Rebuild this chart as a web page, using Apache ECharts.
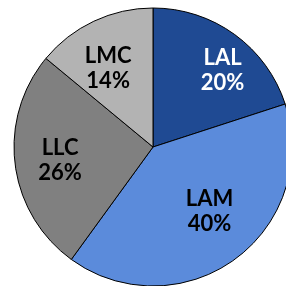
<!DOCTYPE html>
<html>
<head>
<meta charset="utf-8">
<script src="https://cdn.jsdelivr.net/npm/echarts@6/dist/echarts.min.js"></script>
<style>
  html, body { margin: 0; padding: 0; background: #fff; }
  #chart { width: 286px; height: 286px; }
</style>
</head>
<body>
<div id="chart"></div>
<script>
var names = ['LAL', 'LAM', 'LLC', 'LMC'];
var values = [20, 40, 26, 14];
var colors = ['#1f4a93', '#5b8bdb', '#808080', '#b3b3b3'];
var labelColors = ['#ffffff', '#000000', '#000000', '#000000'];
// nudge labels away from the default inside spot
var labelShift = [[27, -18], [14, 6], [-21, 4], [-14, -13]];

var chart = echarts.init(document.getElementById('chart'));

var data = names.map(function (n, i) {
  return {
    name: n,
    value: values[i],
    itemStyle: { color: colors[i] },
    label: { color: labelColors[i] }
  };
});

chart.setOption({
  animation: false,
  series: [{
    type: 'pie',
    center: [153, 147],
    radius: [0, 139],
    startAngle: 90,
    clockwise: true,
    itemStyle: { borderColor: '#000', borderWidth: 1 },
    label: {
      show: true,
      position: 'inside',
      formatter: '{b}\n{d}%',
      fontFamily: 'Lato',
      fontWeight: 'bold',
      fontSize: 22,
      lineHeight: 25,
      align: 'center'
    },
    labelLine: { show: false },
    emphasis: { disabled: true },
    labelLayout: function (p) {
      var s = labelShift[p.dataIndex];
      return { dx: s[0], dy: s[1] };
    },
    data: data
  }]
});
</script>
</body>
</html>
